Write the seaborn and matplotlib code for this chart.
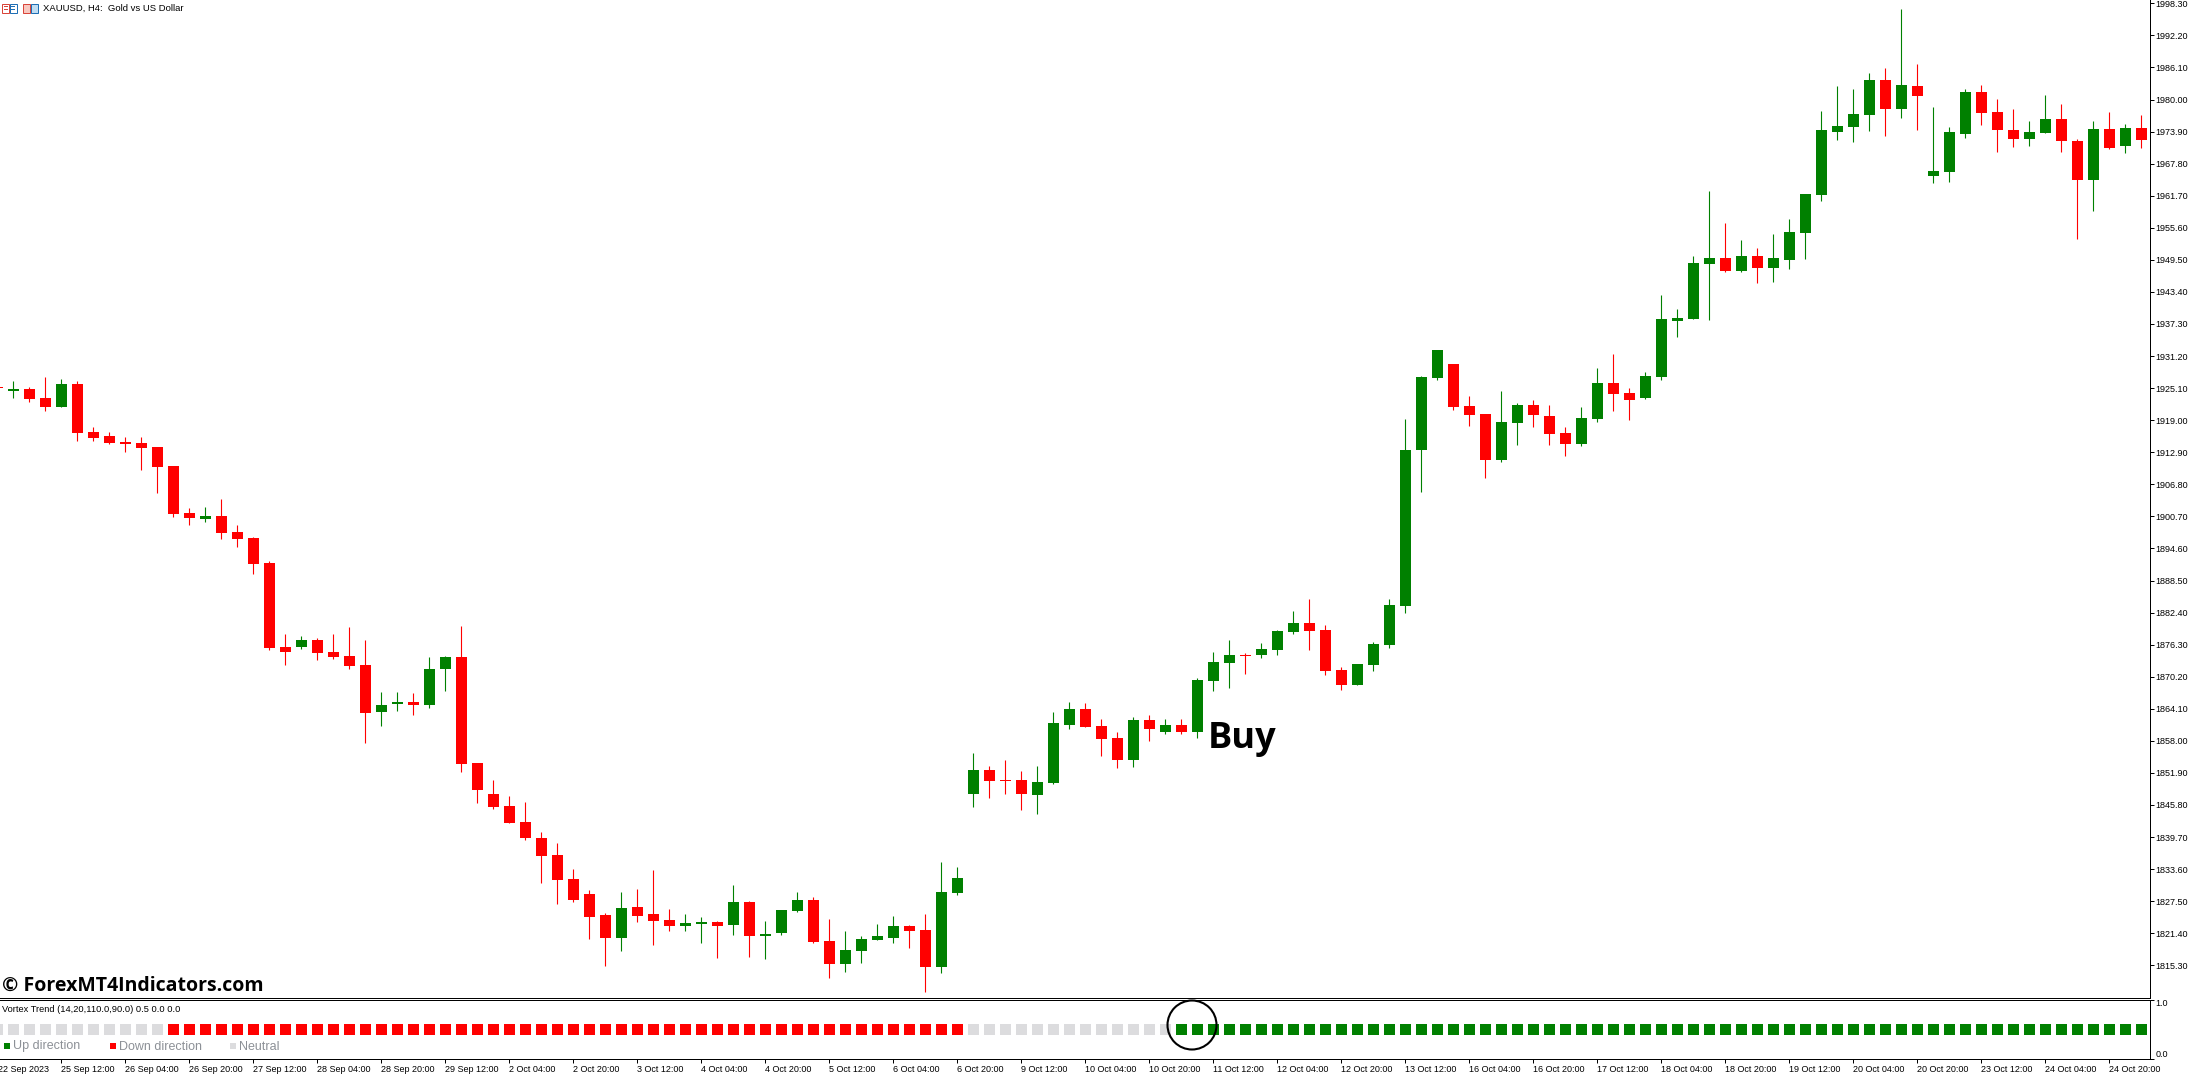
import matplotlib
matplotlib.use("Agg")
import matplotlib.pyplot as plt
from matplotlib.patches import Ellipse, Rectangle
import numpy as np
import seaborn as sns

W, H = 2192, 1076

opens = [1925.3,1924.61,1924.93,1923.2,1921.5,1925.88,1916.75,1916.0,1914.85,1914.66,
         1913.9,1910.3,1901.3,1900.2,1900.77,1897.7,1896.6,1891.8,1875.85,1875.85,
         1877.2,1874.9,1874.1,1872.4,1863.5,1865.07,1865.4,1864.8,1871.7,1873.9,
         1853.8,1847.9,1845.6,1842.6,1839.5,1836.3,1831.7,1828.9,1824.9,1820.5,
         1826.4,1825.1,1823.9,1822.8,1823.1,1823.5,1823.0,1827.3,1820.9,1821.45,
         1825.6,1827.7,1819.9,1815.55,1818.0,1820.1,1820.5,1822.8,1822.0,1815.0,
         1829.05,1847.9,1852.45,1850.55,1850.55,1847.7,1850.0,1861.0,1864.05,1860.8,
         1858.5,1854.35,1862.0,1859.7,1861.0,1859.7,1869.4,1872.8,1874.3,1874.3,
         1875.3,1878.7,1880.4,1879.1,1871.5,1868.6,1872.4,1876.2,1883.65,1913.33,
         1927.0,1929.7,1921.7,1920.2,1911.4,1918.45,1921.9,1919.8,1916.6,1914.5,
         1919.2,1926.1,1924.2,1923.2,1927.2,1937.9,1938.25,1948.7,1949.85,1947.4,
         1950.2,1947.95,1949.5,1954.6,1961.85,1973.8,1974.8,1977.05,1983.7,1978.2,
         1982.55,1965.45,1966.2,1973.4,1981.4,1977.6,1974.2,1972.5,1973.6,1976.3,
         1972.1,1964.7,1974.4,1971.2,1974.6]
highs = [1925.3,1926.45,1925.31,1927.2,1926.83,1926.45,1917.7,1916.75,1915.8,1915.8,
         1913.9,1910.3,1902.3,1902.5,1904.0,1899.06,1896.8,1892.2,1878.3,1877.9,
         1877.6,1878.3,1879.65,1877.2,1867.3,1867.3,1867.1,1873.9,1874.1,1879.9,
         1853.8,1850.55,1847.5,1846.4,1840.65,1838.6,1833.6,1829.6,1825.25,1829.2,
         1829.8,1833.4,1826.0,1825.05,1824.5,1823.7,1830.6,1827.5,1823.7,1825.8,
         1829.25,1828.3,1824.1,1821.8,1820.9,1823.15,1824.7,1823.0,1825.05,1834.95,
         1834.0,1855.7,1853.2,1854.35,1852.3,1853.2,1863.5,1865.4,1865.2,1862.15,
         1859.7,1862.5,1862.9,1862.15,1862.15,1869.95,1874.9,1877.2,1874.7,1876.6,
         1879.1,1882.7,1885.0,1880.0,1872.05,1872.6,1876.8,1884.98,1919.2,1927.4,
         1932.35,1929.7,1923.6,1920.2,1924.55,1922.25,1922.85,1921.9,1917.7,1921.5,
         1928.9,1931.6,1925.1,1928.2,1942.8,1940.15,1950.2,1962.6,1956.5,1953.3,
         1951.75,1954.4,1957.25,1962.0,1977.8,1982.6,1982.0,1985.05,1986.0,1997.2,
         1986.75,1978.6,1974.8,1982.0,1982.75,1980.1,1978.2,1975.9,1980.85,1979.15,
         1972.5,1975.9,1977.6,1975.35,1977.05]
lows = [1925.2,1923.2,1922.46,1920.75,1921.5,1915.04,1915.04,1914.47,1912.94,1909.5,
        1905.2,1900.6,1899.06,1899.6,1896.4,1894.9,1889.7,1875.3,1872.4,1875.47,
        1873.4,1873.6,1871.66,1857.6,1860.8,1863.7,1862.9,1864.25,1867.5,1852.1,
        1846.2,1845.0,1842.4,1839.1,1830.95,1827.0,1827.3,1820.3,1815.2,1818.0,
        1823.5,1819.2,1821.8,1821.8,1819.5,1816.7,1821.0,1816.9,1816.5,1821.0,
        1825.4,1819.5,1812.9,1814.0,1815.7,1820.1,1819.5,1818.6,1810.2,1813.8,
        1828.7,1845.4,1847.1,1847.9,1844.8,1844.1,1849.8,1860.25,1860.6,1855.1,
        1852.8,1853.0,1858.0,1859.3,1859.3,1858.5,1867.5,1868.05,1870.7,1873.75,
        1874.3,1878.3,1875.3,1870.5,1867.7,1868.6,1871.3,1875.7,1882.3,1905.33,
        1926.64,1920.93,1917.9,1908.0,1911.05,1914.3,1917.7,1914.3,1912.2,1914.1,
        1918.65,1920.75,1919.0,1923.0,1926.6,1934.8,1938.25,1938.05,1947.2,1947.2,
        1945.1,1945.3,1947.8,1949.65,1960.7,1972.3,1971.9,1974.0,1973.05,1976.5,
        1974.2,1964.1,1964.3,1972.7,1975.15,1970.0,1971.0,1971.2,1973.6,1970.0,
        1953.5,1958.8,1970.6,1969.8,1970.8]
closes = [1925.2,1924.93,1923.03,1921.5,1925.88,1916.56,1915.6,1914.66,1914.47,1913.7,
          1910.1,1901.15,1900.4,1900.77,1897.5,1896.4,1891.6,1875.66,1874.9,1877.2,
          1874.7,1873.9,1872.2,1863.3,1864.8,1865.4,1864.8,1871.7,1873.9,1853.6,
          1848.65,1845.4,1842.4,1839.5,1836.1,1831.5,1827.7,1824.5,1820.5,1826.2,
          1824.7,1823.7,1822.8,1823.35,1823.5,1822.8,1827.3,1820.9,1821.25,1825.8,
          1827.7,1819.7,1815.55,1818.2,1820.3,1820.9,1822.8,1821.8,1815.0,1829.25,
          1831.9,1852.45,1850.35,1850.35,1847.9,1850.2,1861.4,1864.05,1860.6,1858.35,
          1854.35,1862.0,1860.25,1861.0,1859.7,1869.6,1873.0,1874.3,1874.1,1875.5,
          1878.9,1880.4,1878.9,1871.3,1868.6,1872.6,1876.4,1883.84,1913.33,1927.2,
          1932.35,1921.5,1920.0,1911.4,1918.65,1921.9,1920.0,1916.4,1914.5,1919.4,
          1926.1,1924.0,1922.85,1927.4,1938.25,1938.4,1948.9,1949.85,1947.4,1950.2,
          1947.95,1949.85,1954.8,1962.0,1974.2,1975.0,1977.25,1983.7,1978.2,1982.75,
          1980.65,1966.4,1973.8,1981.4,1977.4,1974.2,1972.5,1973.8,1976.3,1972.1,
          1964.7,1974.4,1970.8,1974.6,1972.3]

vortex_states = ["Neutral"] * 11 + ["Down"] * 50 + ["Neutral"] * 13 + ["Up"] * 61
vortex_level = [0.5] * 135

x_tick_bars = list(range(4, 133, 4))
x_tick_labels = ["25 Sep 12:00", "26 Sep 04:00", "26 Sep 20:00", "27 Sep 12:00", "28 Sep 04:00",
                 "28 Sep 20:00", "29 Sep 12:00", "2 Oct 04:00", "2 Oct 20:00", "3 Oct 12:00",
                 "4 Oct 04:00", "4 Oct 20:00", "5 Oct 12:00", "6 Oct 04:00", "6 Oct 20:00",
                 "9 Oct 12:00", "10 Oct 04:00", "10 Oct 20:00", "11 Oct 12:00", "12 Oct 04:00",
                 "12 Oct 20:00", "13 Oct 12:00", "16 Oct 04:00", "16 Oct 20:00", "17 Oct 12:00",
                 "18 Oct 04:00", "18 Oct 20:00", "19 Oct 12:00", "20 Oct 04:00", "20 Oct 20:00",
                 "23 Oct 12:00", "24 Oct 04:00", "24 Oct 20:00"]
first_label = "22 Sep 2023"
price_ticks = [1998.3, 1992.2, 1986.1, 1980.0, 1973.9, 1967.8, 1961.7, 1955.6, 1949.5, 1943.4, 1937.3,
               1931.2, 1925.1, 1919.0, 1912.9, 1906.8, 1900.7, 1894.6, 1888.5, 1882.4, 1876.3, 1870.2,
               1864.1, 1858.0, 1851.9, 1845.8, 1839.7, 1833.6, 1827.5, 1821.4, 1815.3]

UP, DOWN, NEUTRAL = "#008000", "#FF0000", "#DCDCDE"
LABEL_FONT = ["Liberation Sans", "DejaVu Sans"]
LABEL_SIZE = 6.5

sns.set_theme(style="ticks", rc={"axes.edgecolor": "black", "xtick.color": "black", "ytick.color": "black",
                                 "text.color": "black", "axes.linewidth": 0.72})
plt.rcParams["font.family"] = LABEL_FONT

fig = plt.figure(figsize=(W / 100, H / 100), dpi=100, facecolor="white")
fx = lambda p: p / W
fy = lambda p: 1 - p / H
AX_R = 2149.5
ax1 = fig.add_axes([0, fy(997.5), fx(AX_R), 997.5 / H])
ax2 = fig.add_axes([0, fy(1059), fx(AX_R), 59.5 / H])

o, c, hi, lo = map(np.array, (opens, closes, highs, lows))
idx = np.arange(len(o))
is_up = c >= o
bar_w = 11 / 16
ax1.vlines(idx[is_up], lo[is_up], hi[is_up], color=UP, lw=0.8)
ax1.vlines(idx[~is_up], lo[~is_up], hi[~is_up], color=DOWN, lw=0.8)
sns.barplot(x=idx[is_up], y=(c - o)[is_up], bottom=o[is_up], native_scale=True, color=UP, saturation=1,
            width=bar_w, errorbar=None, linewidth=0, ax=ax1)
sns.barplot(x=idx[~is_up], y=(o - c)[~is_up], bottom=c[~is_up], native_scale=True, color=DOWN, saturation=1,
            width=bar_w, errorbar=None, linewidth=0, ax=ax1)

sns.scatterplot(x=idx, y=vortex_level, hue=vortex_states, palette={"Up": UP, "Down": DOWN, "Neutral": NEUTRAL},
                marker="s", s=62, linewidth=0, legend=False, ax=ax2)

x_left, x_right = 2.6 / 16, (AX_R + 2.6) / 16
PER_PX = 0.19023
TOP = 1998.93
ax1.set_xlim(x_left, x_right)
ax1.set_ylim(TOP - PER_PX * 997.5, TOP)
ax2.set_xlim(x_left, x_right)
ax2.set_ylim(0, 1)

ax1.spines["top"].set_visible(False)
ax1.spines["left"].set_visible(False)
ax2.spines["left"].set_visible(False)
for ax in (ax1, ax2):
    ax.spines["right"].set_visible(True)
    ax.spines["bottom"].set_visible(True)
    ax.set_xlabel("")
    ax.set_ylabel("")
    ax.yaxis.tick_right()
ax2.spines["top"].set_visible(True)

ax1.set_xticks([])
ax1.set_yticks(price_ticks)
ax1.set_yticklabels([f"{v:.2f}" for v in price_ticks], fontsize=LABEL_SIZE)
ax1.tick_params(axis="y", length=3, width=0.72, pad=1.5)

ax2.set_yticks([0, 1])
ax2.set_yticklabels(["0.0", "1.0"], fontsize=LABEL_SIZE)
ax2.get_yticklabels()[0].set_va("bottom")
ax2.get_yticklabels()[1].set_va("top")
ax2.tick_params(axis="y", length=3, width=0.72, pad=1.5)
ax2.set_xticks(x_tick_bars)
ax2.set_xticklabels(x_tick_labels, fontsize=LABEL_SIZE, ha="left")
ax2.tick_params(axis="x", length=3, width=0.72, pad=1.5)

fig.text(fx(-2), fy(1069), first_label, fontsize=LABEL_SIZE, ha="left", va="center")

# window texts
fig.text(fx(43), fy(8.7), "XAUUSD, H4:  Gold vs US Dollar", fontsize=6.8, ha="left", va="center")
fig.text(fx(1.5), fy(1009), "Vortex Trend (14,20,110.0,90.0) 0.5 0.0 0.0", fontsize=6.7, ha="left", va="center")
fig.text(fx(2), fy(985.5), "\u00a9 ForexMT4Indicators.com", family=["Open Sans", "DejaVu Sans"], fontweight="bold",
         fontsize=14, ha="left", va="center")
fig.text(fx(1208), fy(739), "Buy", family=["Open Sans", "DejaVu Sans"], fontweight="bold", fontsize=26,
         ha="left", va="center")

legend_names = ["Up direction", "Down direction", "Neutral"]
legend_colors = [UP, DOWN, NEUTRAL]
legend_x = [4, 110, 230]
for name, col, lx in zip(legend_names, legend_colors, legend_x):
    fig.add_artist(Rectangle((fx(lx), fy(1049)), 6 / W, 6 / H, transform=fig.transFigure, fc=col, lw=0))
    fig.text(fx(lx + 8.7), fy(1046.5), name, family=["Liberation Sans", "DejaVu Sans"], color="#8C9096", fontsize=9,
             ha="left", va="center")

fig.add_artist(Ellipse((fx(1192), fy(1025)), 49 / W, 49 / H, transform=fig.transFigure, fill=False, ec="black", lw=1.5))

# toolbar icons of the chart window
def icon(x0, x1, y0, y1, ec, fc):
    fig.add_artist(Rectangle((fx(x0), fy(y1)), (x1 - x0) / W, (y1 - y0) / H, transform=fig.transFigure,
                             fc=fc, ec=ec, lw=0.72))

icon(2, 9, 4, 13, "#D9453A", "white")
icon(9.5, 16.5, 4, 13, "#1F6FB5", "white")
for yy in (7, 10):
    fig.add_artist(Rectangle((fx(3.5), fy(yy)), 4 / W, 1 / H, transform=fig.transFigure, fc="#D9453A", lw=0))
    fig.add_artist(Rectangle((fx(11), fy(yy)), 4 / W, 1 / H, transform=fig.transFigure, fc="#1F6FB5", lw=0))
icon(23, 30, 4, 13, "#D9453A", "#F8C8C0")
icon(30.5, 37.5, 4, 13, "#1F6FB5", "#BFDDF3")

fig.savefig("out.png", dpi=100, facecolor="white")
